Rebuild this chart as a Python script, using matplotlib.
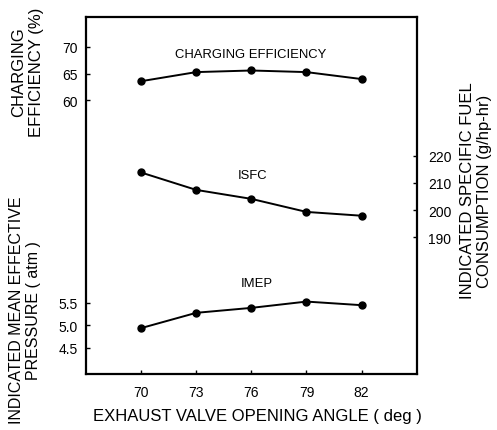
import numpy as np
import matplotlib
matplotlib.use("Agg")
import matplotlib.pyplot as plt

plt.rcParams['font.family'] = ['Liberation Sans', 'DejaVu Sans']

# exhaust valve opening angle (deg)
angle = [70, 73, 76, 79, 82]

# charging efficiency (%)
charging_eff = [63.6, 65.3, 65.6, 65.3, 64.0]
# indicated specific fuel consumption (g/hp-hr)
isfc = [213.8, 207.4, 204.1, 199.3, 197.9]
# indicated mean effective pressure (atm)
imep = [4.94, 5.28, 5.39, 5.53, 5.45]

eff_ticks = [60, 65, 70]
isfc_ticks = [190, 200, 210, 220]
imep_ticks = [4.5, 5.0, 5.5]

fig = plt.figure(figsize=(4.97, 4.31), dpi=100)
rect = [0.173, 0.13, 0.6654, 0.8283]

# charging efficiency axes (this one draws the frame)
ax = fig.add_axes(rect)
ax.set_xlim(67, 85)
ax.set_ylim(8.9, 75.6)
ax.set_xticks(angle)
ax.set_yticks(eff_ticks)
for s in ax.spines.values():
    s.set_linewidth(1.6)
ax.tick_params(direction='in', length=3, width=1, labelsize=10)
ax.tick_params(axis='x', pad=8)
ax.tick_params(axis='y', pad=6)
ax.plot(angle, charging_eff, color='black', lw=1.4, marker='o', ms=5)

# imep axes, left side ticks
ax2 = fig.add_axes(rect, sharex=ax)
ax2.patch.set_visible(False)
for s in ax2.spines.values():
    s.set_visible(False)
ax2.set_ylim(3.92, 11.86)
ax2.set_yticks(imep_ticks)
ax2.set_yticklabels(['%.1f' % v for v in imep_ticks])
ax2.tick_params(axis='x', bottom=False, labelbottom=False)
ax2.tick_params(axis='y', direction='in', length=3, width=1, labelsize=10, pad=6)
ax2.plot(angle, imep, color='black', lw=1.4, marker='o', ms=5)

# isfc axes, right side ticks
ax3 = fig.add_axes(rect, sharex=ax)
ax3.patch.set_visible(False)
for s in ax3.spines.values():
    s.set_visible(False)
ax3.set_ylim(139.7, 271.0)
ax3.set_yticks(isfc_ticks)
ax3.yaxis.tick_right()
ax3.tick_params(axis='x', bottom=False, labelbottom=False)
ax3.tick_params(axis='y', direction='in', length=3, width=1, labelsize=10, pad=8)
ax3.plot(angle, isfc, color='black', lw=1.4, marker='o', ms=5)

# curve labels
ax.text(0.499, 0.896, 'CHARGING EFFICIENCY', transform=ax.transAxes,
        ha='center', va='center', fontsize=9.4)
ax.text(0.505, 0.557, 'ISFC', transform=ax.transAxes,
        ha='center', va='center', fontsize=9.4)
ax.text(0.516, 0.255, 'IMEP', transform=ax.transAxes,
        ha='center', va='center', fontsize=9.4)

# axis titles
fig.text(0.055, 0.833, 'CHARGING\nEFFICIENCY (%)', rotation=90,
         ha='center', va='center', multialignment='center', fontsize=12)
fig.text(0.05, 0.28, 'INDICATED MEAN EFFECTIVE\nPRESSURE ( atm )', rotation=90,
         ha='center', va='center', multialignment='center', fontsize=11.5)
fig.text(0.958, 0.557, 'INDICATED SPECIFIC FUEL\nCONSUMPTION (g/hp-hr)', rotation=90,
         ha='center', va='center', multialignment='center', fontsize=12)
fig.text(0.518, 0.0325, 'EXHAUST VALVE OPENING ANGLE ( deg )',
         ha='center', va='center', fontsize=12)

fig.savefig('out.png', dpi=100)
